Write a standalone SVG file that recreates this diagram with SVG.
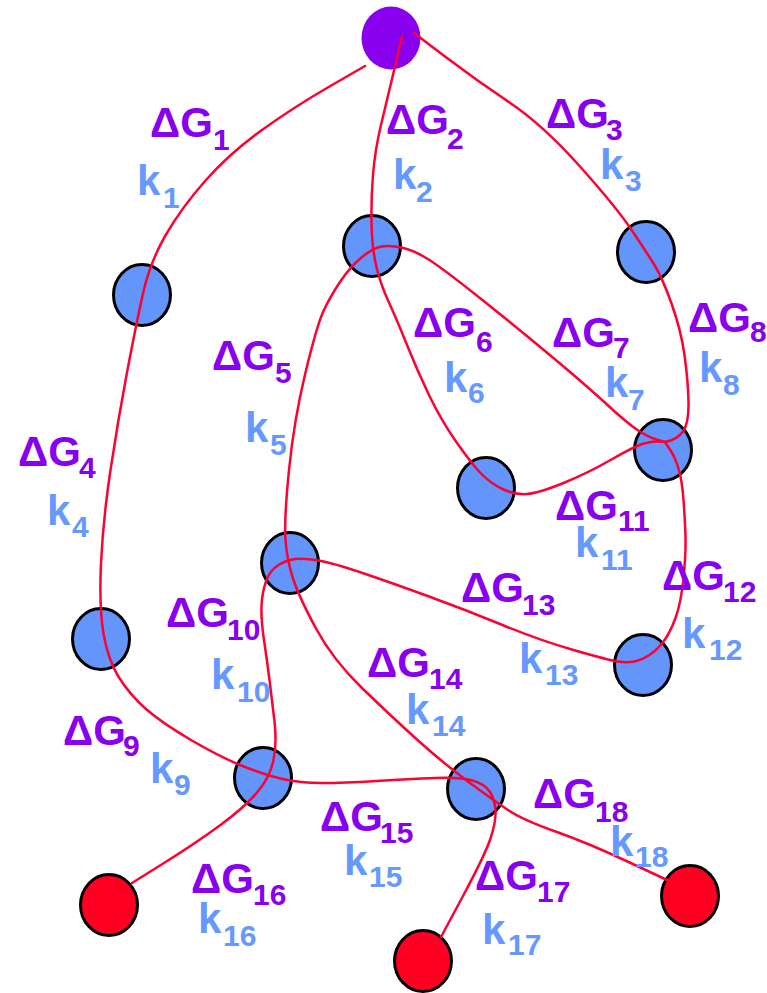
<svg xmlns="http://www.w3.org/2000/svg" width="767" height="993" viewBox="0 0 767 993">
<style>
.bn{fill:#6495FA;stroke:#000;stroke-width:3}
.rn{fill:#FF0022;stroke:#000;stroke-width:3}
.pn{fill:#8800EE}
.ln{fill:none;stroke:#FF0033;stroke-width:2.5;stroke-linecap:round;stroke-linejoin:round}
text{font-family:"Liberation Sans",Arial,sans-serif;font-weight:bold;font-size:42px}
.dg{fill:#8800EE}
.k{fill:#6699FF}
.s{font-size:30px}
</style>
<rect width="767" height="993" fill="#fff"/>
<g id="nodes">
<g id="P"><ellipse class="pn" cx="391" cy="38" rx="29.5" ry="31.5"/></g>
<g id="N1"><ellipse class="bn" cx="142" cy="295" rx="28.5" ry="30.5"/></g>
<g id="N2"><ellipse class="bn" cx="372" cy="246" rx="28.5" ry="30.5"/></g>
<g id="N3"><ellipse class="bn" cx="646" cy="252" rx="28.5" ry="30.5"/></g>
<g id="N4"><ellipse class="bn" cx="663" cy="450" rx="28.5" ry="30.5"/></g>
<g id="N5"><ellipse class="bn" cx="486" cy="488" rx="28.5" ry="30.5"/></g>
<g id="N6"><ellipse class="bn" cx="290" cy="563" rx="28.5" ry="30.5"/></g>
<g id="N7"><ellipse class="bn" cx="101" cy="639" rx="28.5" ry="30.5"/></g>
<g id="N8"><ellipse class="bn" cx="643" cy="665" rx="28.5" ry="30.5"/></g>
<g id="N9"><ellipse class="bn" cx="263" cy="778" rx="28.5" ry="30.5"/></g>
<g id="N10"><ellipse class="bn" cx="476" cy="789" rx="28.5" ry="30.5"/></g>
<g id="R1"><ellipse class="rn" cx="109" cy="905" rx="28.5" ry="30.5"/></g>
<g id="R2"><ellipse class="rn" cx="423" cy="961" rx="28.5" ry="30.5"/></g>
<g id="R3"><ellipse class="rn" cx="690" cy="896" rx="28.5" ry="30.5"/></g>
</g>
<g id="connectors">
<path class="ln" d="M365,66 L329.5,86.5 Q294,107 262,130 Q230,153 206,180 Q182,207 166,234.5 Q150,262 143,293.5 Q136,325 127,372.5 Q118,420 110.5,470 Q103,520 101,563.5 Q99,607 103.5,633.5 Q108,660 119,677.5 Q130,695 146,709 Q162,723 191,740 Q220,757 242.5,766 Q265,775 282.5,779 Q300,783 321.5,783 Q343,783 376.5,781 Q410,779 435,778 Q460,777 472.5,780.5 Q485,784 490,792 Q495,800 495.5,811 Q496,822 490.5,838.5 Q485,855 463,896 L441,937"/>
<path class="ln" d="M414,33 L445,56.5 Q476,80 509.5,102.5 Q543,125 580,166.5 Q617,208 632,230.5 Q647,253 654.5,265 Q662,277 671.5,303.5 Q681,330 684.5,355 Q688,380 688.5,401.5 Q689,423 683,431.5 Q677,440 665,442"/>
<path class="ln" d="M665,442 L670,449.5 Q675,457 678.5,468.5 Q682,480 683.5,500 Q685,520 685.5,536.5 Q686,553 683.5,578 Q681,603 675.5,618 Q670,633 663.5,641.5 Q657,650 649.5,655 Q642,660 634.5,661.5 Q627,663 617.5,661.5 Q608,660 573.5,650 Q539,640 502.5,625 Q466,610 429,596.5 Q392,583 362.5,573 Q333,563 318.5,560.5 Q304,558 295.5,559 Q287,560 278.5,565 Q270,570 266,581.5 Q262,593 261.5,606.5 Q261,620 264,640 Q267,660 269.5,680 Q272,700 274.5,721.5 Q277,743 273.5,760 Q270,777 257.5,792 Q245,807 220.5,825 Q196,843 164,863 L132,883"/>
<path class="ln" d="M402,37 L394.5,68.5 Q387,100 381,125 Q375,150 373,175 Q371,200 371.5,223.5 Q372,247 376,265 Q380,283 388.5,301.5 Q397,320 407,345 Q417,370 429,395 Q441,420 456,441.5 Q471,463 480.5,473 Q490,483 502.5,489 Q515,495 527,494 Q539,493 563.5,483 Q588,473 611.5,459.5 Q635,446 644,443.5 Q653,441 659,441.5 L665,442"/>
<path class="ln" d="M665,442 L656.5,439.5 Q648,437 637.5,430 Q627,423 607.5,405 Q588,387 554,358.5 Q520,330 480.5,298.5 Q441,267 427,258.5 Q413,250 401.5,247.5 Q390,245 381.5,246.5 Q373,248 361.5,257.5 Q350,267 340,282 Q330,297 323.5,311 Q317,325 305.5,372.5 Q294,420 289,470 Q284,520 285.5,540 Q287,560 293,578.5 Q299,597 316,628.5 Q333,660 362.5,688.5 Q392,717 417.5,740 Q443,763 468,781.5 Q493,800 508,810 Q523,820 555.5,831.5 Q588,843 627.5,861.5 L667,880"/>
</g>
<g id="labels">
<text class="dg" x="150" y="137">ΔG<tspan class="s" x="213" y="150">1</tspan></text>
<text class="dg" x="386" y="134">ΔG<tspan class="s" x="447" y="149">2</tspan></text>
<text class="dg" x="546" y="128">ΔG<tspan class="s" x="606" y="140">3</tspan></text>
<text class="dg" x="18" y="466">ΔG<tspan class="s" x="79" y="478">4</tspan></text>
<text class="dg" x="212" y="370">ΔG<tspan class="s" x="275" y="383">5</tspan></text>
<text class="dg" x="413" y="337">ΔG<tspan class="s" x="476" y="352">6</tspan></text>
<text class="dg" x="552" y="347">ΔG<tspan class="s" x="613" y="358">7</tspan></text>
<text class="dg" x="688" y="332">ΔG<tspan class="s" x="750" y="342">8</tspan></text>
<text class="dg" x="63" y="745">ΔG<tspan class="s" x="123" y="756">9</tspan></text>
<text class="dg" x="166" y="627">ΔG<tspan class="s" x="227" y="640">10</tspan></text>
<text class="dg" x="555" y="520">ΔG<tspan class="s" x="618" y="531">11</tspan></text>
<text class="dg" x="662" y="590">ΔG<tspan class="s" x="723" y="602">12</tspan></text>
<text class="dg" x="461" y="602">ΔG<tspan class="s" x="522" y="615">13</tspan></text>
<text class="dg" x="367" y="677">ΔG<tspan class="s" x="429" y="689">14</tspan></text>
<text class="dg" x="320" y="831">ΔG<tspan class="s" x="380" y="843">15</tspan></text>
<text class="dg" x="191" y="893">ΔG<tspan class="s" x="253" y="905">16</tspan></text>
<text class="dg" x="475" y="890">ΔG<tspan class="s" x="537" y="902">17</tspan></text>
<text class="dg" x="533" y="808">ΔG<tspan class="s" x="595" y="822">18</tspan></text>
<text class="k" x="137" y="195">k<tspan class="s" x="163" y="208">1</tspan></text>
<text class="k" x="393" y="189">k<tspan class="s" x="416" y="202">2</tspan></text>
<text class="k" x="600" y="179">k<tspan class="s" x="625" y="191">3</tspan></text>
<text class="k" x="47" y="525">k<tspan class="s" x="72" y="537">4</tspan></text>
<text class="k" x="245" y="442">k<tspan class="s" x="270" y="455">5</tspan></text>
<text class="k" x="444" y="392">k<tspan class="s" x="468" y="403">6</tspan></text>
<text class="k" x="605" y="397">k<tspan class="s" x="628" y="410">7</tspan></text>
<text class="k" x="699" y="382">k<tspan class="s" x="723" y="395">8</tspan></text>
<text class="k" x="150" y="783">k<tspan class="s" x="174" y="795">9</tspan></text>
<text class="k" x="211" y="689">k<tspan class="s" x="237" y="702">10</tspan></text>
<text class="k" x="575" y="557">k<tspan class="s" x="601" y="570">11</tspan></text>
<text class="k" x="682" y="648">k<tspan class="s" x="709" y="660">12</tspan></text>
<text class="k" x="519" y="673">k<tspan class="s" x="545" y="685">13</tspan></text>
<text class="k" x="406" y="724">k<tspan class="s" x="432" y="736">14</tspan></text>
<text class="k" x="344" y="875">k<tspan class="s" x="369" y="887">15</tspan></text>
<text class="k" x="198" y="933">k<tspan class="s" x="223" y="946">16</tspan></text>
<text class="k" x="482" y="944">k<tspan class="s" x="508" y="955">17</tspan></text>
<text class="k" x="610" y="856">k<tspan class="s" x="635" y="867">18</tspan></text>
</g>
</svg>
